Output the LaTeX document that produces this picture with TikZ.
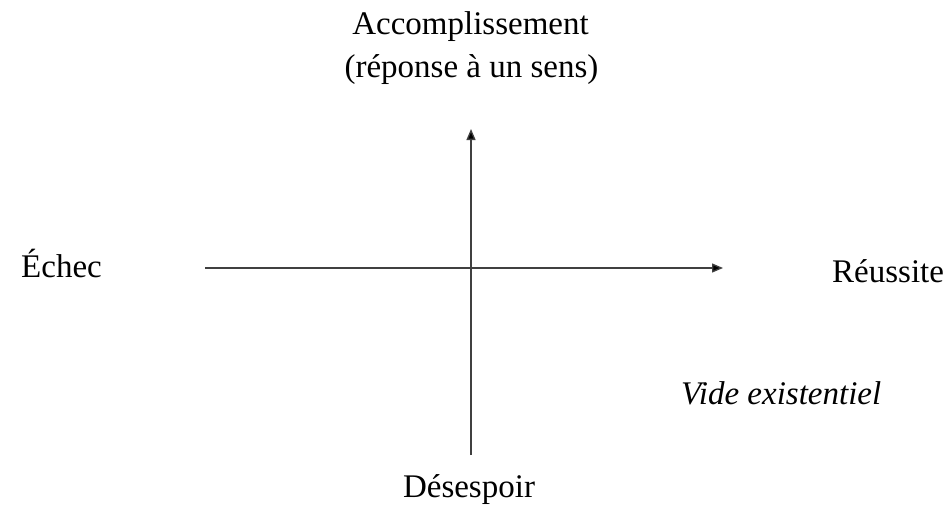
\documentclass[tikz,border=0pt]{standalone}
\usepackage{fontspec}
\setmainfont{Liberation Serif}
\usetikzlibrary{arrows.meta}
\tikzset{
  lbl/.style={inner sep=0pt, font=\fontsize{33}{44}\selectfont},
  axis/.style={line width=1.3pt, draw=black!75, -{Triangle[length=11pt,width=9pt,fill=black]}},
}
\begin{document}
\begin{tikzpicture}[x=1pt,y=-1pt]
\useasboundingbox (0,0) rectangle (952,506);
\coordinate (hl) at (205,268);
\coordinate (hr) at (723,268);
\coordinate (vb) at (471,455);
\coordinate (vt) at (471,129);
\draw[axis] (hl) -- (hr);
\draw[axis] (vb) -- (vt);
\node[lbl, anchor=base] (acc) at (470.5,34) {Accomplissement};
\node[lbl, anchor=base] (rep) at (471.5,77) {(réponse à un sens)};
\node[lbl, anchor=base west] (ech) at (21,277) {Échec};
\node[lbl, anchor=base west] (reu) at (832,282) {Réussite};
\node[lbl, anchor=base west, font=\fontsize{33}{44}\selectfont\itshape] (vide) at (681,404) {Vide existentiel};
\node[lbl, anchor=base] (des) at (469,497) {Désespoir};
\end{tikzpicture}
\end{document}
